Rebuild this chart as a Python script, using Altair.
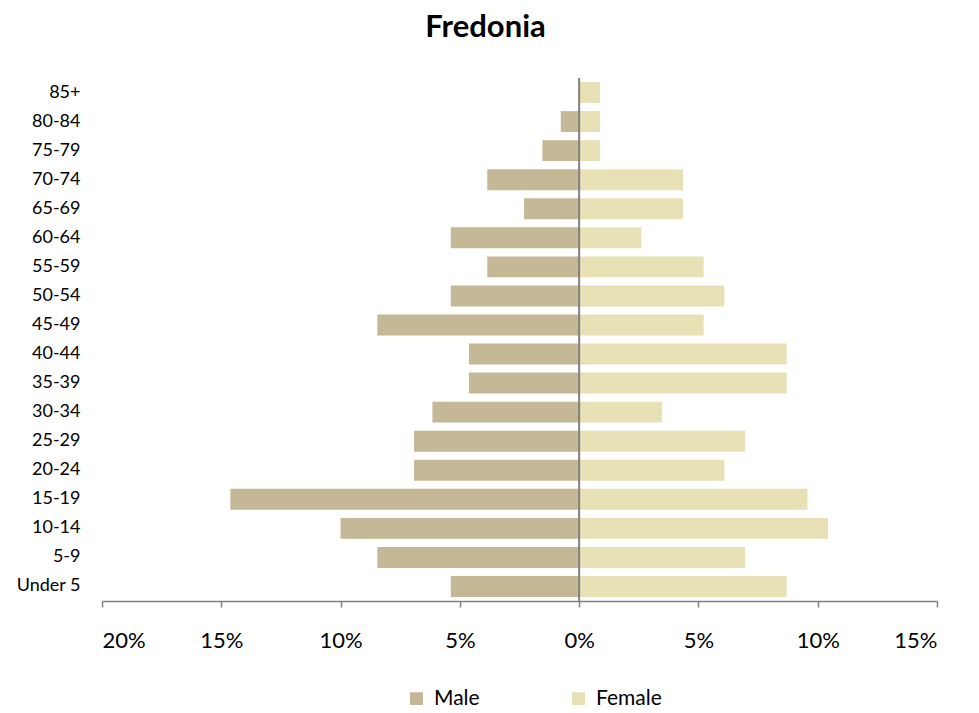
import altair as alt
import pandas as pd

ages = ["85+", "80-84", "75-79", "70-74", "65-69", "60-64", "55-59", "50-54",
        "45-49", "40-44", "35-39", "30-34", "25-29", "20-24", "15-19", "10-14",
        "5-9", "Under 5"]
male = [0.0, 0.77, 1.54, 3.85, 2.31, 5.38, 3.85, 5.38, 8.46, 4.62, 4.62, 6.15,
        6.92, 6.92, 14.62, 10.0, 8.46, 5.38]
female = [0.87, 0.87, 0.87, 4.35, 4.35, 2.61, 5.22, 6.09, 5.22, 8.70, 8.70, 3.48,
          6.96, 6.09, 9.57, 10.43, 6.96, 8.70]
sexes = ["Male", "Female"]
colors = ["#C4B896", "#E8E1B5"]

rows = []
for a, m, f in zip(ages, male, female):
    rows.append({"age": a, "sex": "Male", "value": -m})
    rows.append({"age": a, "sex": "Female", "value": f})
df = pd.DataFrame(rows)

FONT = "Lato"

bars = alt.Chart(df).mark_bar().encode(
    y=alt.Y("age:N", sort=ages, title=None,
            scale=alt.Scale(paddingInner=0.28, paddingOuter=0.14),
            axis=alt.Axis(domain=False, ticks=False, labelPadding=22,
                          labelFontSize=18, labelFont=FONT, labelColor="#000000")),
    x=alt.X("value:Q", title=None,
            scale=alt.Scale(domain=[-20, 15], nice=False),
            axis=alt.Axis(values=[-20, -15, -10, -5, 0, 5, 10, 15],
                          labelExpr="abs(datum.value) + '%'",
                          grid=False, domainColor="#808080", domainWidth=1.5,
                          tickColor="#808080", tickSize=6, tickWidth=1.5,
                          labelFontSize=22, labelFont=FONT, labelColor="#000000",
                          labelPadding=23)),
    color=alt.Color("sex:N", scale=alt.Scale(domain=sexes, range=colors),
                    legend=alt.Legend(title=None, orient="none", direction="horizontal",
                                      legendX=304, legendY=610,
                                      symbolType="square", symbolSize=169,
                                      symbolStrokeWidth=0,
                                      labelFontSize=21, labelFont=FONT,
                                      labelColor="#000000", columnPadding=88,
                                      labelOffset=7)),
)

zero = alt.Chart(pd.DataFrame({"v": [0]})).mark_rule(color="#808080", strokeWidth=2).encode(
    x=alt.X("v:Q")
)

chart = alt.layer(bars, zero).properties(
    width=835, height=523,
    title=alt.TitleParams("Fredonia", fontSize=31, font=FONT, fontWeight="bold",
                          anchor="middle", dx=-34, offset=33, color="#000000"),
    autosize=alt.AutoSizeParams(type="none"),
    padding={"left": 94, "top": 70, "right": 30, "bottom": 104},
).configure_view(stroke=None)

chart.save("out.html", embed_options={"renderer": "svg", "actions": False})
